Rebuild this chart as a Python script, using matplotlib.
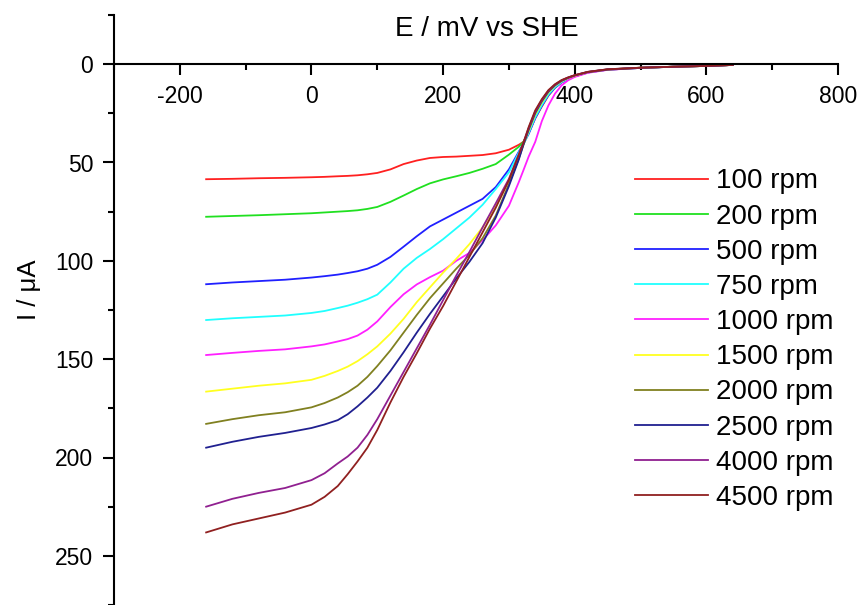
import matplotlib
matplotlib.use("Agg")
import matplotlib.pyplot as plt
from matplotlib.ticker import MultipleLocator

plt.rcParams['font.family'] = ['Liberation Sans', 'DejaVu Sans']
plt.rcParams['axes.unicode_minus'] = False

# potential grid (mV vs SHE), shared by all scans
E = [-160, -120, -80, -40, 0, 20, 40, 55, 70, 85, 100, 120, 140, 160, 180, 200, 220, 240, 260, 280, 300, 315, 322,
     330, 340, 350, 360, 370, 380, 390, 400, 420, 450, 500, 550, 600, 640]

# current (uA), one list per rotation rate
i_100 = [58.5, 58.3, 58.0, 57.8, 57.5, 57.3, 57.0, 56.8, 56.5, 56.0, 55.3, 53.5, 50.8, 49.0, 47.7, 47.2, 47.0, 46.6, 46.2, 45.3, 43.5, 41.0, 39.5,
         35.0, 27.5, 21.5, 16.0, 12.0, 9.3, 7.5, 6.2, 4.2, 2.8, 1.9, 1.3, 0.9, 0.4]
i_200 = [77.6, 77.2, 76.8, 76.3, 75.8, 75.4, 75.0, 74.7, 74.3, 73.6, 72.6, 70.0, 66.8, 63.5, 60.6, 58.6, 57.0, 55.3, 53.2, 50.8, 46.0, 42.0, 39.5,
         34.5, 26.0, 20.0, 14.8, 11.3, 8.9, 7.2, 6.0, 4.1, 2.8, 1.9, 1.3, 0.9, 0.4]
i_500 = [111.9, 111.0, 110.3, 109.6, 108.5, 107.8, 107.0, 106.2, 105.3, 104.0, 102.0, 98.0, 92.8, 87.5, 82.5, 79.0, 75.5, 72.0, 68.5, 62.5, 53.5, 44.5, 40.5,
         35.5, 27.5, 21.3, 15.8, 12.0, 9.3, 7.5, 6.2, 4.2, 2.8, 1.9, 1.3, 0.9, 0.4]
i_750 = [130.1, 129.2, 128.5, 127.8, 126.5, 125.5, 124.0, 122.8, 121.3, 119.5, 117.2, 111.0, 104.0, 98.5, 94.0, 89.0, 83.5, 78.0, 71.5, 63.5, 55.0, 45.0, 41.0,
         35.0, 27.0, 20.8, 15.4, 11.7, 9.1, 7.4, 6.1, 4.2, 2.8, 1.9, 1.3, 0.9, 0.4]
i_1000 = [147.9, 146.8, 145.8, 145.0, 143.5, 142.5, 141.0, 139.8, 138.0, 135.0, 130.8, 123.5, 117.0, 112.0, 108.3, 105.0, 100.0, 96.0, 89.5, 82.0, 72.0, 60.0, 54.0,
          47.0, 39.5, 29.0, 21.0, 15.0, 10.8, 8.2, 6.5, 4.4, 2.9, 1.9, 1.3, 0.9, 0.4]
i_1500 = [166.5, 165.0, 163.5, 162.3, 160.5, 158.5, 156.0, 153.8, 151.0, 147.5, 143.5, 137.0, 129.5, 121.0, 113.5, 106.0, 99.0, 91.5, 83.0, 72.5, 59.0, 47.5, 41.0,
          34.0, 25.5, 19.5, 14.4, 11.0, 8.7, 7.1, 5.9, 4.0, 2.7, 1.8, 1.3, 0.9, 0.4]
i_2000 = [182.9, 180.5, 178.5, 177.0, 174.5, 172.3, 169.5, 166.8, 163.5, 159.0, 153.5, 145.5, 136.5, 127.5, 119.0, 111.5, 104.0, 97.0, 88.5, 77.0, 61.0, 48.0, 41.0,
          33.5, 25.0, 19.0, 14.0, 10.8, 8.5, 7.0, 5.8, 4.0, 2.7, 1.8, 1.3, 0.9, 0.4]
i_2500 = [195.0, 192.0, 189.5, 187.5, 185.0, 183.2, 181.0, 178.0, 174.0, 169.5, 164.5, 156.0, 146.5, 136.5, 127.0, 118.0, 109.0, 100.5, 91.0, 78.0, 62.0, 48.5, 41.0,
          33.0, 24.5, 18.6, 13.8, 10.6, 8.4, 6.9, 5.7, 4.0, 2.7, 1.8, 1.3, 0.9, 0.4]
i_4000 = [225.0, 221.0, 218.0, 215.5, 211.5, 208.0, 203.0, 199.5, 195.0, 188.5, 180.5, 168.5, 156.5, 144.5, 132.5, 120.0, 107.5, 95.5, 83.0, 70.8, 58.3, 46.0, 40.0,
          32.5, 24.0, 18.2, 13.5, 10.4, 8.2, 6.8, 5.6, 3.9, 2.6, 1.8, 1.3, 0.9, 0.4]
i_4500 = [238.1, 234.0, 231.0, 228.0, 224.0, 220.0, 214.5, 208.5, 202.0, 195.0, 186.0, 172.0, 159.0, 147.0, 134.5, 123.0, 110.5, 98.0, 85.5, 73.0, 59.0, 46.0, 40.0,
          32.0, 23.5, 17.8, 13.2, 10.2, 8.1, 6.7, 5.6, 3.9, 2.6, 1.8, 1.3, 0.9, 0.4]

labels = ["100 rpm", "200 rpm", "500 rpm", "750 rpm", "1000 rpm",
          "1500 rpm", "2000 rpm", "2500 rpm", "4000 rpm", "4500 rpm"]
currents = [i_100, i_200, i_500, i_750, i_1000, i_1500, i_2000, i_2500, i_4000, i_4500]
colors = ["#ff2020", "#20e020", "#2020ff", "#20ffff", "#ff20ff",
          "#ffff20", "#808020", "#202090", "#902090", "#902020"]

fig = plt.figure(figsize=(8.59, 6.05), dpi=100)
ax = fig.add_axes([114/859, 0, 724/859, 590/605])

for cur, lab, col in zip(currents, labels, colors):
    ax.plot(E, cur, color=col, lw=1.3, label=lab)

ax.set_xlim(-300, 800)
ax.set_ylim(275, -25)

# x axis drawn through I = 0
ax.spines['bottom'].set_position(('data', 0))
ax.spines['top'].set_visible(False)
ax.spines['right'].set_visible(False)
for s in ['bottom', 'left']:
    ax.spines[s].set_linewidth(1.5)

ax.xaxis.set_major_locator(MultipleLocator(200))
ax.xaxis.set_minor_locator(MultipleLocator(100))
ax.yaxis.set_major_locator(MultipleLocator(50))
ax.yaxis.set_minor_locator(MultipleLocator(25))
ax.tick_params(which='major', length=8, width=1.5, labelsize=16.5, pad=7)
ax.tick_params(which='minor', length=4, width=1.5)

# only label 0..250, not the ends of the axis
ax.set_yticks([0, 50, 100, 150, 200, 250])

ax.text(267, -18, "E / mV vs SHE", fontsize=20, ha='center', va='center')
ax.set_ylabel("I / \u03bcA", fontsize=18.5)
ax.yaxis.set_label_coords(-0.101, 0.534)

ax.legend(loc='upper left', bbox_to_anchor=(0.72, 0.74), frameon=False, fontsize=20,
          handlelength=2.6, handletextpad=0.29, labelspacing=0.33, borderpad=0, borderaxespad=0)

fig.savefig("out.png", dpi=100)
